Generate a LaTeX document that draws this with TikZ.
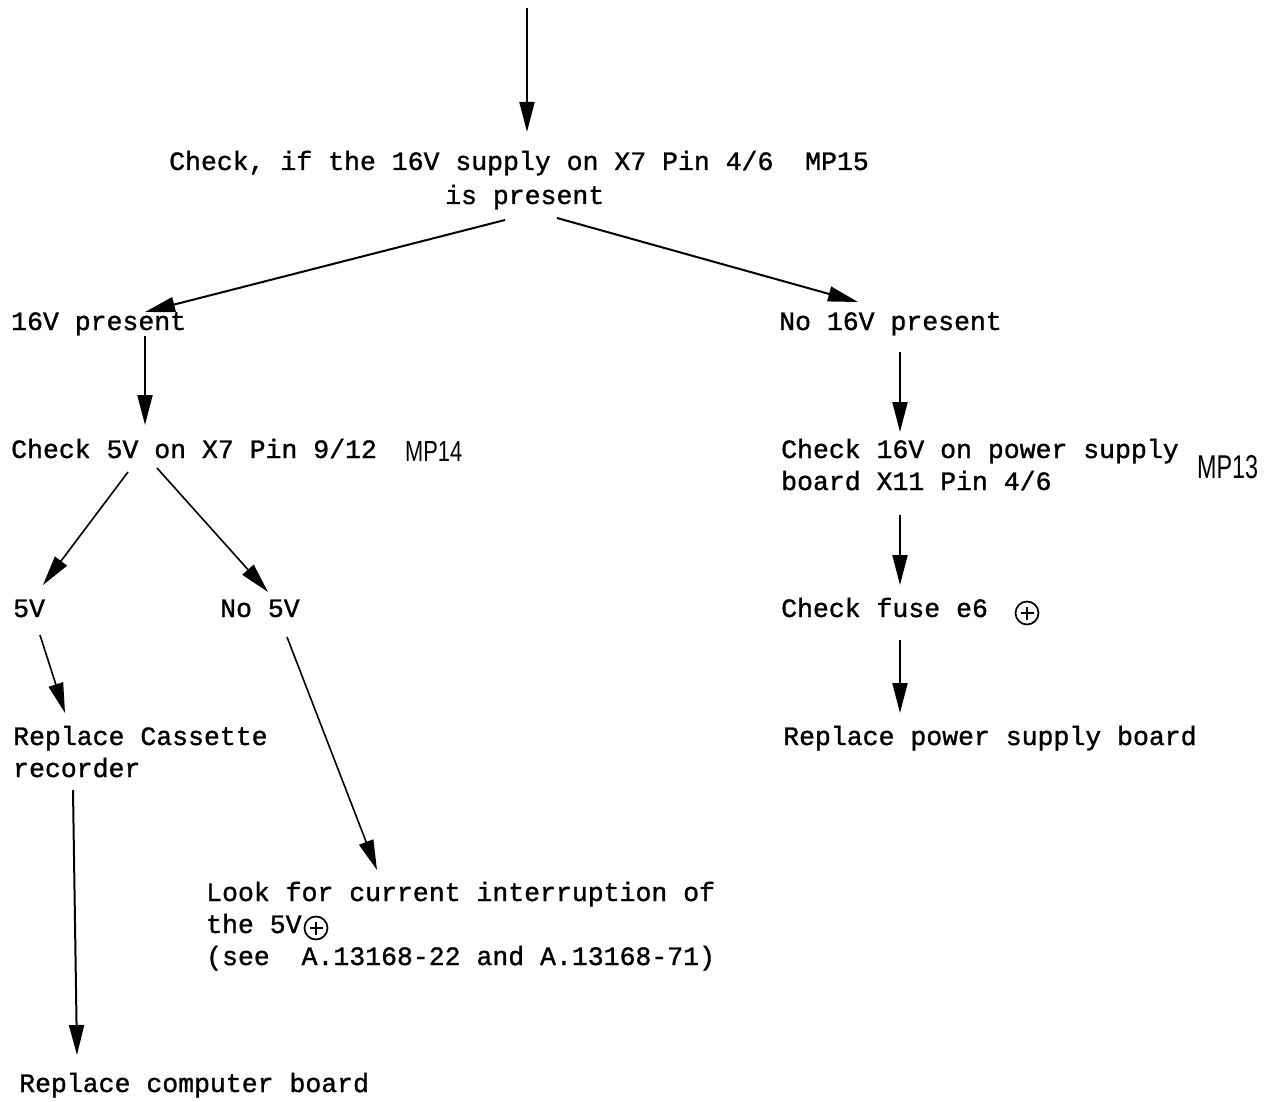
\documentclass[tikz,border=0pt]{standalone}
\usepackage{fontspec}
\setmonofont[FakeBold=1.2]{Liberation Mono}
\setsansfont{Liberation Sans}
\usetikzlibrary{arrows.meta,calc}
\begin{document}
\begin{tikzpicture}[x=1pt,y=-1pt,
  txt/.style={anchor=base west,inner sep=0pt,align=left,
    font=\ttfamily\fontsize{26.5}{32}\selectfont},
  hand/.style={anchor=base west,inner sep=0pt,font=\sffamily},
  arr/.style={line width=2pt,-{Triangle[length=30pt,width=15pt]}},
  thinarr/.style={line width=1.6pt,-{Triangle[length=30pt,width=15pt]}},
  cplus/.style={circle,draw,line width=1.7pt,minimum size=23pt,inner sep=0pt,
    path picture={\draw[line width=1.4pt]
      ($(path picture bounding box.center)+(-6.5pt,0)$) -- ($(path picture bounding box.center)+(6.5pt,0)$)
      ($(path picture bounding box.center)+(0,-6.5pt)$) -- ($(path picture bounding box.center)+(0,6.5pt)$);}}]
\useasboundingbox[fill=white] (0,0) rectangle (1277,1102);

% text blocks (multi-line blocks are placed by the baseline of their last line)
\node[txt] (q) at (169,204) {Check, if the 16V supply on X7 Pin 4/6\ \ MP15\\[2pt]\hspace*{276pt}is present};
\node[txt] (p16) at (11,330) {16V present};
\node[txt] (n16) at (779,330) {No 16V present};
\node[txt] (c5) at (11,458) {Check 5V on X7 Pin 9/12};
\node[hand] (mp14) at (405,461) {\resizebox{57pt}{20pt}{MP14}};
\node[txt] (c16) at (781,490) {Check 16V on power supply\\board X11 Pin 4/6};
\node[hand] (mp13) at (1197,478) {\resizebox{61pt}{23pt}{MP13}};
\node[txt] (v5) at (13,617) {5V};
\node[txt] (nv5) at (220,617) {No 5V};
\node[txt] (fuse) at (781,617) {Check fuse e6};
\node[cplus] (fplus) at ($(fuse.base west)+(246,-4)$) {};
\node[txt] (rc) at (13,777) {Replace Cassette\\recorder};
\node[txt] (rp) at (783,745) {Replace power supply board};
\node[txt] (look) at (206,965) {Look for current interruption of\\the 5V\\(see\ \ A.13168-22 and A.13168-71)};
\node[cplus] (lplus) at ($(look.base west)+(110,-37)$) {};
\node[txt] (rcb) at (19,1092) {Replace computer board};

% connectors
\coordinate (in) at (527,8);
\draw[arr] (in) -- ($(q.base west)+(358,-72)$);
\draw[arr] ($(q.base west)+(336,16)$) -- ($(p16.base west)+(134,-18)$);
\draw[arr] ($(q.base west)+(388,14)$) -- ($(n16.base west)+(79,-28)$);
\draw[arr] ($(p16.base west)+(134,6)$) -- ($(c5.base west)+(134,-33)$);
\draw[thinarr] ($(c5.base west)+(117,14)$) -- ($(v5.base west)+(30,-32)$);
\draw[thinarr] ($(c5.base west)+(146,10)$) -- ($(nv5.base west)+(48,-25)$);
\draw[thinarr] ($(v5.base west)+(27,18)$) -- ($(rc.base west)+(52,-64)$);
\draw[thinarr] ($(nv5.base west)+(67,20)$) -- ($(look.base west)+(171,-95)$);
\draw[arr] ($(rc.base west)+(60,13)$) -- ($(rcb.base west)+(58,-37)$);
\draw[arr] ($(n16.base west)+(121,22)$) -- ($(c16.base west)+(119,-58)$);
\draw[arr] ($(c16.base west)+(119,25)$) -- ($(fuse.base west)+(119,-32)$);
\draw[arr] ($(fuse.base west)+(119,23)$) -- ($(rp.base west)+(117,-32)$);
\end{tikzpicture}
\end{document}
